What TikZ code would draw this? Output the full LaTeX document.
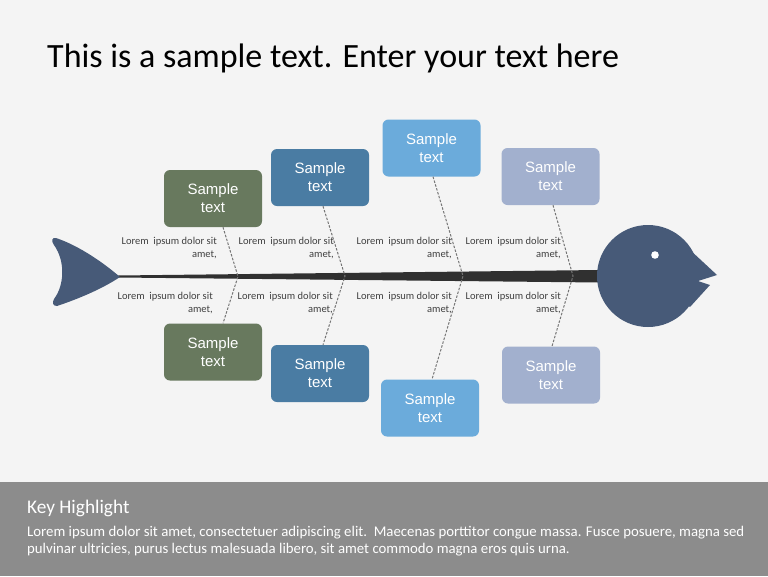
\documentclass[tikz,border=0pt]{standalone}
\usepackage{fontspec}
\setmainfont{Carlito}
\newfontfamily\boxfont{Liberation Sans}
\usepackage{xcolor}
\usepackage{tikz}
\usetikzlibrary{positioning,calc}
\definecolor{bgpaper}{HTML}{F4F4F4}
\definecolor{fishblue}{HTML}{475A78}
\definecolor{spinegray}{HTML}{303030}
\definecolor{bonegray}{HTML}{767676}
\definecolor{lblgray}{HTML}{404040}
\definecolor{boxgreen}{HTML}{68795E}
\definecolor{boxblue}{HTML}{4A7CA3}
\definecolor{boxsky}{HTML}{6BABDB}
\definecolor{boxlav}{HTML}{A2B0CE}
\definecolor{bandgray}{HTML}{8C8C8C}

\begin{document}
\begin{tikzpicture}[x=1pt,y=-1pt,
    sbox/.style={rounded corners=6pt, minimum width=98pt, minimum height=57pt, inner sep=0pt,
        align=center, text=white, font=\boxfont\fontsize{15}{18}\selectfont},
    bone/.style={draw=bonegray, line width=1pt, dash pattern=on 2.5pt off 1.5pt},
    lbl/.style={align=right, anchor=east, inner sep=0pt, text=lblgray,
        font=\fontsize{10.5}{12.5}\selectfont}]
    % Page
    \useasboundingbox (0,0) rectangle (768,576);
    \fill[bgpaper] (0,0) rectangle (768,482);
    \fill[bandgray] (0,482) rectangle (768,576);
    \node[anchor=base west, inner sep=0pt, font=\fontsize{34}{40}\selectfont] (title) at (47,67) {This is a sample text. Enter your text here};
    
    % Spine and tail
    \fill[spinegray] (118,275.5) -- (600,270) -- (600,282.5) -- (118,277.5) -- cycle;
    \fill[fishblue] (56,238) .. controls (80,246) and (105,264) .. (120,277)
        .. controls (102,289) and (78,299) .. (57,306)
        .. controls (53,306) and (52,303) .. (54,299)
        .. controls (64,286) and (66,262) .. (54,245)
        .. controls (51,241) and (52,237) .. (56,238) -- cycle;
    
    % Head
    \fill[fishblue] (648,276) circle (51);
    \fill[fishblue] (675,236) -- (717,275) -- (698,281) -- (710,285) -- (690,307) -- (655,280) -- cycle;
    \fill[white] (655,255) circle (3.8);
    
    % Cause boxes
    \node[sbox, fill=boxgreen] (T1) at (213,198.5) {Sample\\text};
    \node[sbox, fill=boxblue]  (T2) at (320,177.5) {Sample\\text};
    \node[sbox, fill=boxsky]   (T3) at (431.5,148) {Sample\\text};
    \node[sbox, fill=boxlav]   (T4) at (550.5,176.5) {Sample\\text};
    \node[sbox, fill=boxgreen] (B1) at (213,352) {Sample\\text};
    \node[sbox, fill=boxblue]  (B2) at (320,373.5) {Sample\\text};
    \node[sbox, fill=boxsky]   (B3) at (430,408) {Sample\\text};
    \node[sbox, fill=boxlav]   (B4) at (551,375) {Sample\\text};
    
    % Bones
    \coordinate (J1) at (238,276.5);
    \coordinate (J2) at (345,276);
    \coordinate (J3) at (463,276);
    \coordinate (J4) at (573,276);
    \draw[bone] ([xshift=10pt]T1.south) -- (J1) -- ([xshift=10pt]B1.north);
    \draw[bone] ([xshift=3pt]T2.south) -- (J2) -- ([xshift=3pt]B2.north);
    \draw[bone] ([xshift=1.5pt]T3.south) -- (J3) -- ([xshift=2pt]B3.north);
    \draw[bone] ([xshift=2.5pt]T4.south) -- (J4) -- ([xshift=1pt]B4.north);
    
    % Sub causes
    \node[lbl] (U1) at (217,248) {Lorem\ \ ipsum dolor sit\\amet,};
    \node[lbl] (U2) at (334,248) {Lorem\ \ ipsum dolor sit\\amet,};
    \node[lbl] (U3) at (452,248) {Lorem\ \ ipsum dolor sit\\amet,};
    \node[lbl] (U4) at (561,248) {Lorem\ \ ipsum dolor sit\\amet,};
    \node[lbl] (L1) at (213,303) {Lorem\ \ ipsum dolor sit\\amet,};
    \node[lbl] (L2) at (333,303) {Lorem\ \ ipsum dolor sit\\amet,};
    \node[lbl] (L3) at (452,303) {Lorem\ \ ipsum dolor sit\\amet,};
    \node[lbl] (L4) at (561,303) {Lorem\ \ ipsum dolor sit\\amet,};
    
    % Key highlight
    \node[anchor=base west, inner sep=0pt, text=white, font=\fontsize{19.3}{22}\selectfont] (key) at (27,513) {Key Highlight};
    \node[anchor=north west, inner sep=0pt, text=white, align=left, font=\fontsize{14.8}{17}\selectfont] (body) at (27,526)
        {Lorem ipsum dolor sit amet, consectetuer adipiscing elit.\ \ Maecenas porttitor congue massa. Fusce posuere, magna sed\\
         pulvinar ultricies, purus lectus malesuada libero, sit amet commodo magna eros quis urna.};
\end{tikzpicture}
\end{document}
